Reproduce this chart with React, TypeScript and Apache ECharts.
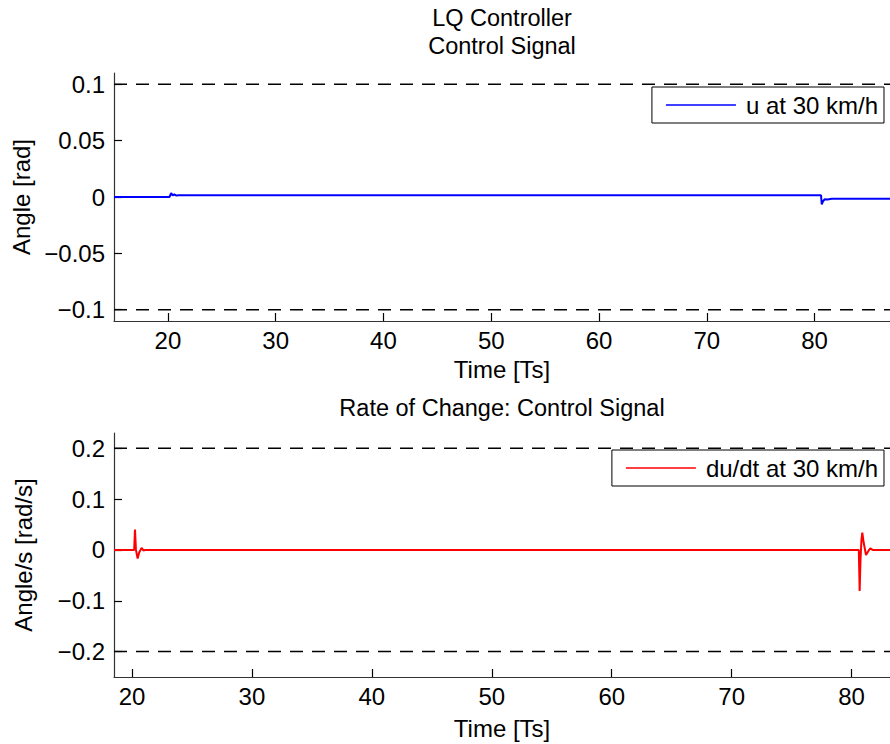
import React, { useEffect, useRef } from "react";
import * as echarts from "echarts";

const FONT = "'Liberation Sans', Arial, Helvetica, sans-serif";
const FS = 24;

// Top plot: control signal u
const uTime = [15, 20.15, 20.3, 20.45, 20.6, 20.8, 21.0, 80.6, 80.67, 80.8, 80.95, 81.2, 81.6, 87];
const uValue = [0, 0, 0.0035, 0.0015, 0.0022, 0.0013, 0.0015, 0.0015, -0.0065, -0.0035, -0.002, -0.0022, -0.0015, -0.0015];
const uLimits = [0.1, -0.1];
const uTicks = [-0.1, -0.05, 0, 0.05, 0.1];
const topXTicks = [20, 30, 40, 50, 60, 70, 80];

// Bottom plot: du/dt
const dTime = [18.5, 20.18, 20.25, 20.33, 20.47, 20.6, 20.8, 20.95, 21.1, 80.6, 80.67, 80.74, 80.82, 80.89, 81.0, 81.2, 81.4, 81.56, 81.75, 83.2];
const dValue = [0, 0, 0.04, 0.0, -0.017, -0.005, 0.004, -0.001, 0, 0, -0.081, -0.02, 0.02, 0.034, 0.015, -0.01, -0.002, 0.003, 0, 0];
const dLimits = [0.2, -0.2];
const dTicks = [-0.2, -0.1, 0, 0.1, 0.2];
const botXTicks = [20, 30, 40, 50, 60, 70, 80];

const fmt = (v: number) => {
  const s = String(Math.round(v * 1000) / 1000);
  return s.replace("-", "\u2212");
};

export default function App() {
  const ref = useRef<HTMLDivElement>(null);
  useEffect(() => {
    if (!ref.current) return;
    const chart = echarts.init(ref.current, null, { renderer: "svg" });
    const axisLine = { show: true, onZero: false, lineStyle: { color: "#333", width: 1.2 } };
    const tick = (vals: number[]) => ({ show: true, inside: true, length: 8, customValues: vals, lineStyle: { color: "#000", width: 1.2 } });
    const lbl = (vals: number[], m: number) => ({
      customValues: vals,
      color: "#000",
      fontSize: FS,
      fontFamily: FONT,
      margin: m,
      formatter: (v: number) => fmt(v),
    });
    const xAx = (idx: number, min: number, max: number, ticks: number[], gap: number) => ({
      type: "value",
      gridIndex: idx,
      min,
      max,
      axisLine,
      axisTick: tick(ticks),
      axisLabel: lbl(ticks, 7),
      splitLine: { show: false },
      name: "Time [Ts]",
      nameLocation: "middle",
      nameGap: gap,
      nameTextStyle: { color: "#000", fontSize: FS, fontFamily: FONT },
    });
    const yAx = (idx: number, min: number, max: number, ticks: number[], name: string) => ({
      type: "value",
      gridIndex: idx,
      min,
      max,
      axisLine,
      axisTick: tick(ticks),
      axisLabel: lbl(ticks, 9),
      splitLine: { show: false },
      name,
      nameLocation: "middle",
      nameGap: 79,
      nameTextStyle: { color: "#000", fontSize: FS, fontFamily: FONT },
    });
    const dashed = (x0: number, x1: number, y: number, idx: number) => ({
      type: "line",
      xAxisIndex: idx,
      yAxisIndex: idx,
      data: [[x0, y], [x1, y]],
      symbol: "none",
      silent: true,
      lineStyle: { color: "#000", width: 1.5, type: [13, 9] },
      z: 1,
    });
    const legend = (name: string, top: number) => ({
      data: [name],
      right: 6,
      top,
      orient: "vertical",
      icon: "rect",
      itemWidth: 70,
      itemHeight: 1.5,
      padding: [6, 6, 6, 14],
      borderColor: "#000",
      borderWidth: 1,
      backgroundColor: "#fff",
      textStyle: { color: "#000", fontSize: FS, fontFamily: FONT, padding: [0, 0, 0, 5] },
    });
    chart.setOption({
      animation: false,
      backgroundColor: "#fff",
      textStyle: { fontFamily: FONT },
      graphic: [
        { type: "text", x: 502, y: 18, style: { text: "LQ Controller", font: `23.5px ${FONT}`, fill: "#000", textAlign: "center", textVerticalAlign: "middle" } },
        { type: "text", x: 502, y: 46, style: { text: "Control Signal", font: `23.5px ${FONT}`, fill: "#000", textAlign: "center", textVerticalAlign: "middle" } },
        { type: "text", x: 502, y: 408, style: { text: "Rate of Change: Control Signal", font: `23.5px ${FONT}`, fill: "#000", textAlign: "center", textVerticalAlign: "middle" } },
      ],
      grid: [
        { left: 114, top: 73, right: 0, height: 248 },
        { left: 114, top: 433, right: 0, height: 244 },
      ],
      xAxis: [xAx(0, 15, 87, topXTicks, 36), xAx(1, 18.5, 83.2, botXTicks, 39)],
      yAxis: [
        yAx(0, -0.11, 0.11, uTicks, "Angle [rad]"),
        yAx(1, -0.25, 0.23, dTicks, "Angle/s [rad/s]"),
      ],
      legend: [legend("u at 30 km/h", 87), legend("du/dt at 30 km/h", 450)],
      series: [
        dashed(15, 87, uLimits[0], 0),
        dashed(15, 87, uLimits[1], 0),
        dashed(18.5, 83.2, dLimits[0], 1),
        dashed(18.5, 83.2, dLimits[1], 1),
        {
          name: "u at 30 km/h",
          type: "line",
          xAxisIndex: 0,
          yAxisIndex: 0,
          data: uTime.map((t, i) => [t, uValue[i]]),
          symbol: "none",
          lineStyle: { color: "#0000ff", width: 2 },
          itemStyle: { color: "#0000ff" },
          z: 3,
        },
        {
          name: "du/dt at 30 km/h",
          type: "line",
          xAxisIndex: 1,
          yAxisIndex: 1,
          data: dTime.map((t, i) => [t, dValue[i]]),
          symbol: "none",
          lineStyle: { color: "#ff0000", width: 2 },
          itemStyle: { color: "#ff0000" },
          z: 3,
        },
      ],
    });
    return () => chart.dispose();
  }, []);
  return <div ref={ref} style={{ position: "absolute", left: 0, top: 0, width: 890, height: 744 }} />;
}
